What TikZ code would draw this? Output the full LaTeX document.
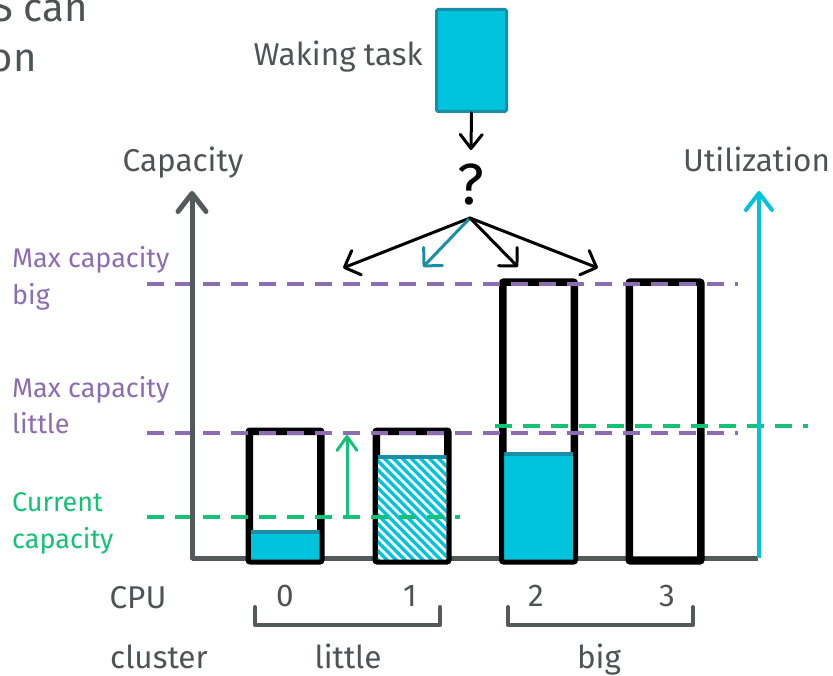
\documentclass[tikz,border=0pt]{standalone}
\usepackage{fontspec}
\setmainfont{Fira Sans}
\usetikzlibrary{arrows.meta}
\definecolor{axisgray}{HTML}{545A5A}
\definecolor{txtgray}{HTML}{4E5454}
\definecolor{capviolet}{HTML}{8C6DB4}
\definecolor{capgreen}{HTML}{14C276}
\definecolor{utilcyan}{HTML}{00C4DC}
\definecolor{darkteal}{HTML}{1A8DA7}
\begin{document}
\begin{tikzpicture}[x=1pt,y=-1pt,
  lbl/.style={inner sep=0pt, text=txtgray, font=\fontsize{31.5}{36}\selectfont},
  side/.style={inner sep=0pt, anchor=base west, font=\fontsize{27}{33}\selectfont},
  barbox/.style={draw=black, line width=5pt, rounded corners=2pt, inner sep=0pt, minimum width=69pt},
  maxline/.style={capviolet, line width=4pt, dash pattern=on 17pt off 11pt},
  curline/.style={capgreen, line width=4pt, dash pattern=on 17pt off 11pt},
  choice/.style={line width=3pt, line cap=round, -{Straight Barb[length=13pt,width=26pt,round]}},
  bracket/.style={axisgray, line width=4pt, line cap=round, line join=round},
]
\useasboundingbox (0,0) rectangle (833,676);

% title fragment (clipped at the left edge, as in the reference)
\node[lbl, anchor=base east, font=\fontsize{40}{48}\selectfont] (title1) at (88,22) {S can};
\node[lbl, anchor=base east, font=\fontsize{40}{48}\selectfont] (title2) at (37,72) {on};

% waking task
\node[draw=darkteal, fill=utilcyan, line width=3pt, rounded corners=1.5pt, inner sep=0pt,
      minimum width=70pt, minimum height=102pt] (task) at (471.5,60.5) {};
\node[lbl, anchor=base east] (tasklbl) at (423,66) {Waking task};
\node[inner sep=0pt, anchor=base, font=\fontsize{58}{60}\selectfont] (qmark) at (471,205) {?};
\coordinate (dn) at (471,150);
\draw[choice, -{Straight Barb[length=14pt,width=22pt,round]}] (task.south) -- (dn);

% axes labels
\node[lbl, anchor=base] (caplbl) at (183,172) {Capacity};
\node[lbl, anchor=base west] (utillbl) at (683,172) {Utilization};

% horizontal axis
\coordinate (origin) at (192,558);
\coordinate (xend) at (758,558);
\draw[axisgray, line width=5pt] (origin) -- (xend);

% bars
\node[barbox, minimum height=127pt] (cpu0) at (285,496) {};
\node[barbox, minimum height=127pt] (cpu1) at (412,496) {};
\node[barbox, minimum height=276pt] (cpu2) at (538.5,421.5) {};
\node[barbox, minimum height=276pt] (cpu3) at (665,421.5) {};

\fill[utilcyan] (250.5,530) rectangle (319.5,559.5);
\fill[darkteal] (250.5,530) rectangle (319.5,534);
\fill[utilcyan] (504,452) rectangle (573,559.5);
\fill[darkteal] (504,452) rectangle (573,456);
\begin{scope}
  \clip (377.5,455) rectangle (446.5,559.5);
  \fill[white] (377.5,455) rectangle (446.5,559.5);
  \foreach \i in {250,259,...,460} {
    \draw[utilcyan, line width=3.4pt] (\i,450) -- ++(120,120);
  }
\end{scope}
\fill[darkteal] (377.5,455) rectangle (446.5,459);

% bar borders
\draw[black, line width=5pt, rounded corners=2pt] (cpu0.south west) rectangle (cpu0.north east);
\draw[black, line width=5pt, rounded corners=2pt] (cpu1.south west) rectangle (cpu1.north east);
\draw[black, line width=5pt, rounded corners=2pt] (cpu2.south west) rectangle (cpu2.north east);
\draw[black, line width=5pt, rounded corners=2pt] (cpu3.south west) rectangle (cpu3.north east);

% dashed levels
\coordinate (bigA) at (147,284);   \coordinate (bigB) at (738,284);
\coordinate (litA) at (147,433);   \coordinate (litB) at (738,433);
\coordinate (curA) at (147,517);   \coordinate (curB) at (460,517);
\coordinate (cur2A) at (495,426);  \coordinate (cur2B) at (808,426);
\draw[maxline] (bigA) -- (bigB);
\draw[maxline] (litA) -- (litB);
\draw[curline] (curA) -- (curB);
\draw[curline] (cur2A) -- (cur2B);

% green headroom arrow
\coordinate (hrA) at (347,517);
\coordinate (hrB) at (347,435);
\draw[capgreen, line width=3pt, line cap=round, -{Straight Barb[length=14pt,width=20pt,round]}] (hrA) -- (hrB);

% vertical axes
\coordinate (ytop) at (192,191);
\draw[axisgray, line width=5pt, line cap=round, -{Straight Barb[length=18pt,width=28pt,round]}] (origin) -- (ytop);
\coordinate (ubot) at (759,558);
\coordinate (utop) at (759,191);
\draw[utilcyan, line width=4pt, -{Straight Barb[length=17pt,width=26pt,round]}] (ubot) -- (utop);

% choice arrows
\coordinate (fork) at (470,218);
\coordinate (t0) at (343,268);
\coordinate (t1) at (423,267);
\coordinate (t2) at (518,267);
\coordinate (t3) at (598,268);
\draw[choice] (fork) -- (t0);
\draw[choice, darkteal] (fork) -- (t1);
\draw[choice] (fork) -- (t2);
\draw[choice] (fork) -- (t3);

% level labels
\node[side, text=capviolet] (mcb1) at (12,268) {Max capacity};
\node[side, text=capviolet] (mcb2) at (12,305) {big};
\node[side, text=capviolet] (mcl1) at (12,397) {Max capacity};
\node[side, text=capviolet] (mcl2) at (12,433) {little};
\node[side, text=capgreen] (cc1) at (12,511) {Current};
\node[side, text=capgreen] (cc2) at (12,548) {capacity};

% cpu labels
\node[lbl, anchor=base] (cpulbl) at (138,608) {CPU};
\node[lbl, anchor=base] (n0) at (285,606) {0};
\node[lbl, anchor=base] (n1) at (410,606) {1};
\node[lbl, anchor=base] (n2) at (536,606) {2};
\node[lbl, anchor=base] (n3) at (667,606) {3};

% brackets
\draw[bracket] (255,607) -- (255,625) -- (440,625) -- (440,607);
\draw[bracket] (508,607) -- (508,625) -- (693,625) -- (693,607);

\node[lbl, anchor=base west] (clulbl) at (110,668) {cluster};
\node[lbl, anchor=base] (littlelbl) at (348,668) {little};
\node[lbl, anchor=base] (biglbl) at (599,668) {big};
\end{tikzpicture}
\end{document}
